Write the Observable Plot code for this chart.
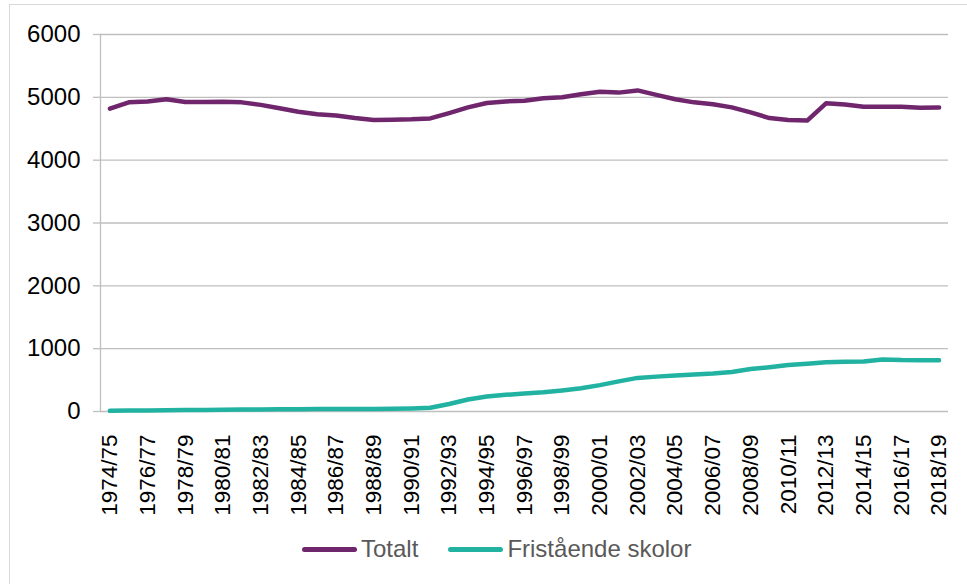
<!DOCTYPE html>
<html>
<head>
<meta charset="utf-8">
<script src="https://cdn.jsdelivr.net/npm/d3@7"></script>
<script src="https://cdn.jsdelivr.net/npm/@observablehq/plot@0.6"></script>
<style>
  html, body { margin: 0; padding: 0; background: #fff; overflow: hidden; }
  #wrap { position: relative; width: 967px; height: 584px; font-family: "Liberation Sans", Arial, sans-serif; }
  #border { position: absolute; left: 9px; top: 4px; width: 1000px; height: 700px; border: 1px solid #D9D9D9; box-sizing: border-box; }
  #chart { position: absolute; left: 0; top: 0; }
  #legend { position: absolute; top: 535px; left: 302px; display: flex; align-items: center; font-size: 24px; color: #595959; }
  .item { display: flex; align-items: center; }
  .sw { display: inline-block; width: 55px; height: 5px; border-radius: 3px; margin-right: 4px; }
</style>
</head>
<body>
<div id="wrap">
  <div id="border"></div>
  <div id="chart"></div>
  <div id="legend"></div>
</div>
<script>
const years = ["1974/75","1975/76","1976/77","1977/78","1978/79","1979/80","1980/81","1981/82","1982/83","1983/84",
  "1984/85","1985/86","1986/87","1987/88","1988/89","1989/90","1990/91","1991/92","1992/93","1993/94",
  "1994/95","1995/96","1996/97","1997/98","1998/99","1999/00","2000/01","2001/02","2002/03","2003/04",
  "2004/05","2005/06","2006/07","2007/08","2008/09","2009/10","2010/11","2011/12","2012/13","2013/14",
  "2014/15","2015/16","2016/17","2017/18","2018/19"];
const totalt = [4820,4920,4935,4970,4925,4925,4930,4920,4880,4825,
  4770,4730,4710,4670,4640,4645,4650,4665,4750,4840,
  4910,4935,4945,4985,5000,5050,5090,5075,5110,5040,
  4970,4920,4890,4840,4760,4670,4640,4630,4905,4885,
  4850,4850,4850,4835,4840];
const fristaende = [10,15,15,18,22,25,28,30,32,35,
  37,38,38,38,40,42,48,60,120,190,
  240,265,285,305,335,370,420,480,535,555,
  572,590,605,630,675,705,740,760,785,790,
  795,828,818,815,815];
const seriesNames = ["Totalt", "Fristående skolor"];
const seriesColors = ["#70266C", "#22B2A2"];
const yTicks = [0,1000,2000,3000,4000,5000,6000];
const xTickLabels = years.filter((d, i) => i % 2 === 0);

const rows = [];
years.forEach((y, i) => {
  rows.push({year: y, value: totalt[i], series: seriesNames[0]});
  rows.push({year: y, value: fristaende[i], series: seriesNames[1]});
});

const plot = Plot.plot({
  width: 967,
  height: 584,
  marginLeft: 100,
  marginRight: 19,
  marginTop: 34,
  marginBottom: 173,
  style: {fontFamily: "'Liberation Sans', Arial, sans-serif", fontSize: "22.5px", color: "#000", background: "transparent"},
  x: {type: "point", domain: years, padding: 0.5, label: null},
  y: {domain: [0, 6000], label: null},
  color: {domain: seriesNames, range: seriesColors},
  marks: [
    Plot.gridY(yTicks, {stroke: "#BFBFBF", strokeOpacity: 1, strokeWidth: 1.3}),
    Plot.frame({anchor: "left", stroke: "#BFBFBF", strokeWidth: 1.3}),
    Plot.axisY(yTicks, {tickSize: 7, tickPadding: 13, tickFormat: d => String(d), fontSize: 24, stroke: "#BFBFBF", strokeWidth: 1.3, fill: "#000", label: null}),
    Plot.axisX(xTickLabels, {tickSize: 0, tickPadding: 23, tickRotate: -90, fontSize: 22.5, fill: "#000", label: null}),
    Plot.line(rows, {x: "year", y: "value", z: "series", stroke: "series", strokeWidth: 4.5, strokeLinejoin: "round", strokeLinecap: "round"})
  ]
});
document.getElementById("chart").appendChild(plot);

const legend = document.getElementById("legend");
seriesNames.forEach((name, i) => {
  const item = document.createElement("div");
  item.className = "item";
  item.style.marginRight = i === 0 ? "30px" : "0";
  const sw = document.createElement("span");
  sw.className = "sw";
  sw.style.background = seriesColors[i];
  item.appendChild(sw);
  const t = document.createElement("span");
  t.textContent = name;
  item.appendChild(t);
  legend.appendChild(item);
});
</script>
</body>
</html>
